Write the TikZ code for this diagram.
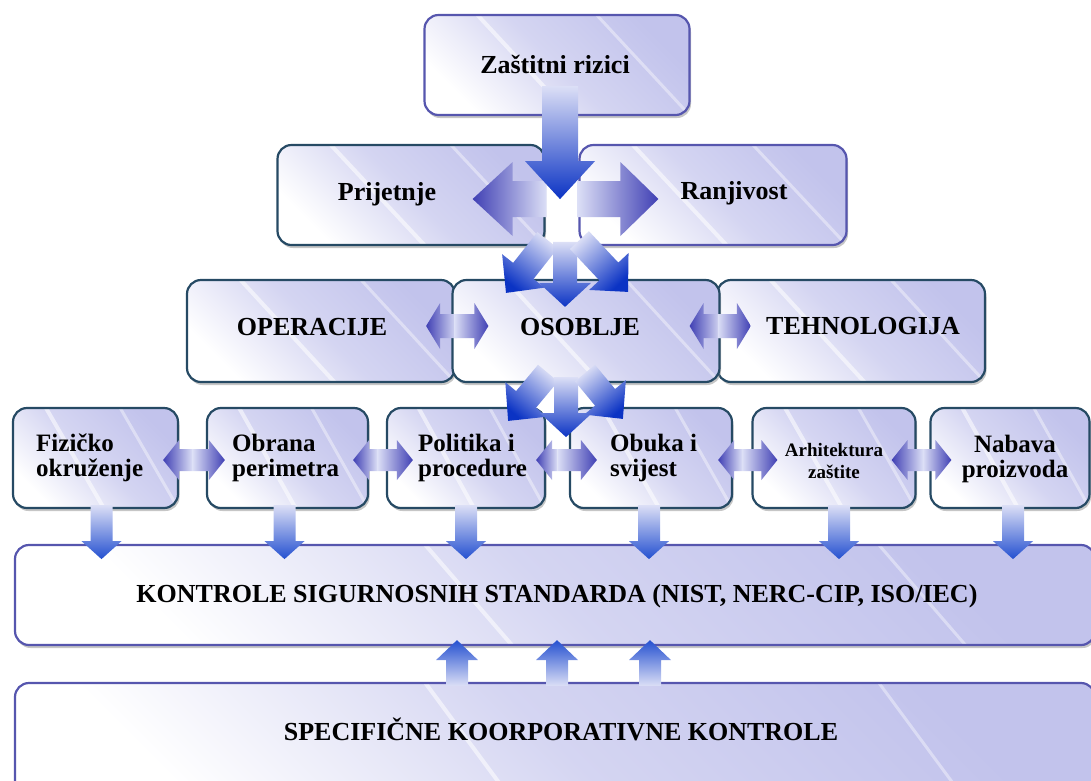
\documentclass[tikz,border=0pt]{standalone}
\usepackage{fontspec}
\setmainfont{Liberation Serif}
\usetikzlibrary{calc, shadows}

\definecolor{lavender}{HTML}{C2C3EC}
\definecolor{rimblue}{HTML}{5656AE}
\definecolor{rimteal}{HTML}{264A64}
\definecolor{flowblue}{HTML}{0B33C4}
\definecolor{linkblue}{HTML}{4040B4}
\definecolor{dropblue}{HTML}{2450D0}
\definecolor{paleflow}{HTML}{DCDFF6}

\tikzset{
  gloss/.style n args={4}{path picture={
    \draw[white, opacity=0.55, line width=4pt]
      ($(path picture bounding box.north west)!#1!(path picture bounding box.north east)$) --
      ($(path picture bounding box.south west)!#2!(path picture bounding box.south east)$);
    \draw[white, opacity=0.4, line width=3pt]
      ($(path picture bounding box.north west)!#3!(path picture bounding box.north east)$) --
      ($(path picture bounding box.south west)!#4!(path picture bounding box.south east)$);}},
  panel/.style={draw=rimteal, line width=2.2pt, rounded corners=14pt, inner sep=0pt,
    minimum height=100pt, top color=lavender, bottom color=white, middle color=lavender!70,
    shading angle=-45,
    drop shadow={shadow xshift=1.5pt, shadow yshift=-3pt, opacity=0.45},
    gloss={0.2}{0.55}{0.65}{1.0}},
  widepanel/.style={panel, draw=rimblue, minimum width=1080pt, gloss={0.38}{0.46}{0.8}{0.88}},
  tag/.style={font=\bfseries\fontsize{25}{25.5}\selectfont, inner sep=0pt, align=left},
}

% block arrow: [colour]{tail}{tip}{shaft half width}{head half width}{head length}
\newcommand{\blockarrow}[6][flowblue]{%
  \coordinate (flowtail) at (#2);
  \coordinate (flowtip) at (#3);
  \coordinate (flowneck) at ($(flowtip)!#6pt!(flowtail)$);
  \path (flowtail); \pgfgetlastxy{\flowtx}{\flowty}%
  \path (flowtip); \pgfgetlastxy{\flowpx}{\flowpy}%
  \pgfmathsetmacro{\flowangle}{atan2((\flowpy)-(\flowty),(\flowpx)-(\flowtx))-90}%
  \path[top color=#1, bottom color=paleflow, shading angle=\flowangle]
    ($(flowtail)!#4pt!90:(flowtip)$) -- ($(flowneck)!#4pt!90:(flowtip)$)
    -- ($(flowneck)!#5pt!90:(flowtip)$) -- (flowtip)
    -- ($(flowneck)!#5pt!-90:(flowtip)$) -- ($(flowneck)!#4pt!-90:(flowtip)$)
    -- ($(flowtail)!#4pt!-90:(flowtip)$) -- cycle;}

\begin{document}
\begin{tikzpicture}[x=1pt, y=-1pt]
\useasboundingbox (0,0) rectangle (1091,780);
\clip (0,0) rectangle (1091,780);

%boxes
\node[panel, draw=rimblue, minimum width=265pt] (rizici) at (557,65) {};
\node[panel, minimum width=267pt] (prijetnje) at (411,195) {};
\node[panel, draw=rimblue, minimum width=267pt] (ranjivost) at (713,195) {};
\node[panel, minimum width=268pt, minimum height=102pt] (operacije) at (321,331) {};
\node[panel, minimum width=268pt, minimum height=102pt] (tehnologija) at (851,331) {};
\node[panel, minimum width=267pt, minimum height=102pt] (osoblje) at (586,331) {};

\node[panel, minimum width=165pt] (fizicko) at (95.5,458) {};
\node[panel, minimum width=161pt] (obrana) at (287.5,458) {};
\node[panel, minimum width=158pt] (politika) at (466,458) {};
\node[panel, minimum width=162pt] (obuka) at (651,458) {};
\node[panel, minimum width=163pt] (arhitektura) at (834,458) {};
\node[panel, minimum width=159pt] (nabava) at (1010,458) {};

\node[widepanel] (kontrole) at (555,595) {};
\node[widepanel, minimum height=117pt] (specificne) at (555,741.5) {};

%labels
\node[tag, anchor=base, font=\bfseries\fontsize{26}{26}\selectfont] (rizicitag) at (555,73) {Zaštitni rizici};
\node[tag, anchor=base, font=\bfseries\fontsize{26}{26}\selectfont] (prijetnjetag) at (387,200) {Prijetnje};
\node[tag, anchor=base, font=\bfseries\fontsize{26}{26}\selectfont] (ranjivosttag) at (734,199) {Ranjivost};
\node[tag, anchor=base, font=\bfseries\fontsize{26}{26}\selectfont] (operacijetag) at (312,335) {OPERACIJE};
\node[tag, anchor=base, font=\bfseries\fontsize{26}{26}\selectfont] (osobljetag) at (580,335) {OSOBLJE};
\node[tag, anchor=base, font=\bfseries\fontsize{26}{26}\selectfont] (tehnologijatag) at (863,334) {TEHNOLOGIJA};

\node[tag, anchor=west] (fizickotag) at (36,458) {Fizičko\\okruženje};
\node[tag, anchor=west] (obranatag) at (232,458) {Obrana\\perimetra};
\node[tag, anchor=west] (politikatag) at (418,458) {Politika i\\procedure};
\node[tag, anchor=west] (obukatag) at (610,458) {Obuka i\\svijest};
\node[tag, align=center, font=\bfseries\fontsize{19}{22}\selectfont] (arhitekturatag) at (834,461) {Arhitektura\\zaštite};
\node[tag, align=center] (nabavatag) at (1015,459) {Nabava\\proizvoda};

\node[tag, anchor=base, font=\bfseries\fontsize{26}{26}\selectfont] (kontroletag) at (557,602) {KONTROLE SIGURNOSNIH STANDARDA (NIST, NERC-CIP, ISO/IEC)};
\node[tag, anchor=base, font=\bfseries\fontsize{26}{26}\selectfont] (specificnetag) at (561,740) {SPECIFIČNE KOORPORATIVNE KONTROLE};

%split of the risks
\blockarrow[linkblue]{$(prijetnje.east)+(1,4)$}{$(prijetnje.east)+(-73,4)$}{18}{37}{40}
\blockarrow[linkblue]{$(ranjivost.west)+(-1,4)$}{$(ranjivost.west)+(80,4)$}{18}{37}{38}
\blockarrow{$(rizici.south)+(3,-30)$}{$(rizici.south)+(3,83)$}{18}{35}{38}

%into the staff
\blockarrow{$(prijetnje.south east)+(2,-6)$}{$(osoblje.north)+(-80,14)$}{13}{27}{28}
\blockarrow{$(osoblje.north)+(-21,-37)$}{$(osoblje.north)+(-21,28)$}{12}{26}{24}
\blockarrow{$(ranjivost.south west)+(1,-6)$}{$(osoblje.north)+(42,13)$}{13}{27}{28}

%out of the staff
\blockarrow{$(osoblje.south)+(-38,-10)$}{$(politika.north east)+(-38,14)$}{13}{27}{28}
\blockarrow{$(osoblje.south)+(-20,-6)$}{$(osoblje.south)+(-20,54)$}{12}{26}{24}
\blockarrow{$(osoblje.south)+(-1,-10)$}{$(obuka.north west)+(54,12)$}{13}{27}{28}

%links of the middle row
\blockarrow[linkblue]{$(operacije.east)+(1,-5)$}{$(operacije.east)+(-30,-5)$}{12}{23}{14}
\blockarrow[linkblue]{$(osoblje.west)+(3,-5)$}{$(osoblje.west)+(37,-5)$}{12}{23}{14}
\blockarrow[linkblue]{$(osoblje.east)+(1,-5)$}{$(osoblje.east)+(-31,-5)$}{12}{23}{14}
\blockarrow[linkblue]{$(tehnologija.west)+(2,-5)$}{$(tehnologija.west)+(35,-5)$}{12}{23}{14}

%links of the lower row
\blockarrow[linkblue]{$(fizicko.east)!0.5!(obrana.west)+(0,2)$}{$(fizicko.east)+(-16,2)$}{11}{20}{16}
\blockarrow[linkblue]{$(fizicko.east)!0.5!(obrana.west)+(0,2)$}{$(obrana.west)+(19,2)$}{11}{20}{16}
\blockarrow[linkblue]{$(obrana.east)!0.5!(politika.west)+(0,2)$}{$(obrana.east)+(-16,2)$}{11}{20}{16}
\blockarrow[linkblue]{$(obrana.east)!0.5!(politika.west)+(0,2)$}{$(politika.west)+(27,2)$}{11}{20}{16}
\blockarrow[linkblue]{$(politika.east)!0.5!(obuka.west)+(0,2)$}{$(politika.east)+(-10,2)$}{11}{20}{16}
\blockarrow[linkblue]{$(politika.east)!0.5!(obuka.west)+(0,2)$}{$(obuka.west)+(28,2)$}{11}{20}{16}
\blockarrow[linkblue]{$(obuka.east)!0.5!(arhitektura.west)+(0,2)$}{$(obuka.east)+(-15,2)$}{11}{20}{16}
\blockarrow[linkblue]{$(obuka.east)!0.5!(arhitektura.west)+(0,2)$}{$(arhitektura.west)+(26,2)$}{11}{20}{16}
\blockarrow[linkblue]{$(arhitektura.east)!0.5!(nabava.west)+(0,2)$}{$(arhitektura.east)+(-25,2)$}{11}{20}{16}
\blockarrow[linkblue]{$(arhitektura.east)!0.5!(nabava.west)+(0,2)$}{$(nabava.west)+(22,2)$}{11}{20}{16}

%down to the standards
\blockarrow[dropblue]{$(fizicko.south)+(6,-4)$}{$(fizicko.south)+(6,50)$}{11}{20}{18}
\blockarrow[dropblue]{$(obrana.south)+(-3,-4)$}{$(obrana.south)+(-3,50)$}{11}{20}{18}
\blockarrow[dropblue]{$(politika.south)+(0,-4)$}{$(politika.south)+(0,50)$}{11}{20}{18}
\blockarrow[dropblue]{$(obuka.south)+(-2,-4)$}{$(obuka.south)+(-2,50)$}{11}{20}{18}
\blockarrow[dropblue]{$(arhitektura.south)+(5,-4)$}{$(arhitektura.south)+(5,50)$}{11}{20}{18}
\blockarrow[dropblue]{$(nabava.south)+(3,-4)$}{$(nabava.south)+(3,50)$}{11}{20}{18}

%up from the corporate controls
\blockarrow[dropblue]{$(specificne.north)+(-98,4)$}{$(kontrole.south)+(-98,-6)$}{11}{21}{20}
\blockarrow[dropblue]{$(specificne.north)+(2,4)$}{$(kontrole.south)+(2,-6)$}{11}{21}{20}
\blockarrow[dropblue]{$(specificne.north)+(95,4)$}{$(kontrole.south)+(95,-6)$}{11}{21}{20}

\end{tikzpicture}
\end{document}
